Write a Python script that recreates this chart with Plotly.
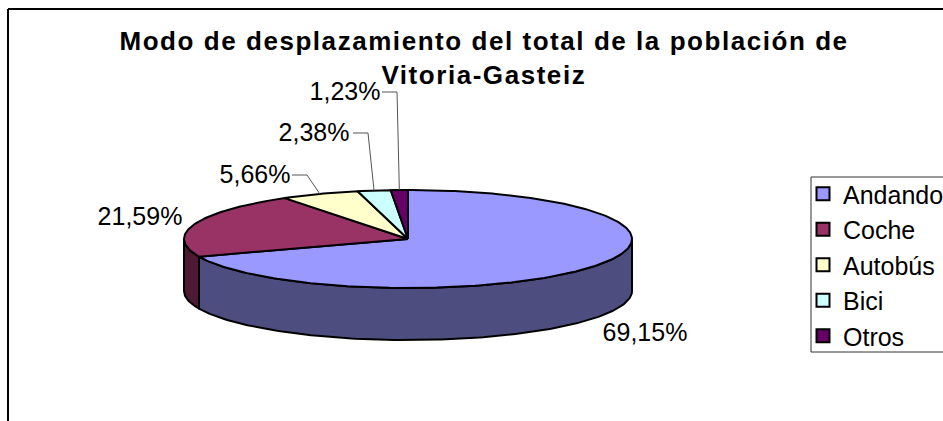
import math
import plotly.graph_objects as go

# --- data ---
categories = ["Andando", "Coche", "Autobús", "Bici", "Otros"]
values = [69.15, 21.59, 5.66, 2.38, 1.23]
top_colors = ["#9999FF", "#993366", "#FFFFCC", "#CCFFFF", "#660066"]
side_colors = ["#4D4D80", "#4D1933", "#808066", "#668080", "#330033"]
title_lines = ["Modo de desplazamiento del total de la población de", "Vitoria-Gasteiz"]

# --- layout constants (pixels in a 943x421 canvas) ---
W, H = 943, 421
CX, CY, RX, RY, DEPTH = 408, 239, 224, 49, 52
FONT = "Liberation Sans, Arial, sans-serif"
LABEL_SIZE = 25
label_pos = [(645, 335), (140, 219), (255, 177), (314, 135), (345, 94)]
leader_elbow = [None, None, [(292, 175), (307, 175)], [(353, 133), (368, 133)], [(382, 92), (397, 92)]]


def pt(deg, dy=0):
    a = math.radians(deg)
    return CX + RX * math.sin(a), CY - RY * math.cos(a) + dy


def arc(a0, a1, dy=0):
    n = max(2, int(abs(a1 - a0)) + 1)
    return [pt(a0 + (a1 - a0) * i / (n - 1), dy) for i in range(n)]


total = sum(values)
angles = [0]
for v in values:
    angles.append(angles[-1] + v / total * 360)

fig = go.Figure()


def poly(points, color, width=2):
    xs, ys = zip(*points)
    fig.add_trace(go.Scatter(
        x=list(xs) + [xs[0]], y=list(ys) + [ys[0]], mode="lines", fill="toself",
        fillcolor=color, line=dict(color="black", width=width),
        showlegend=False, hoverinfo="skip"))


# outer walls (front half only)
for i, c in enumerate(side_colors):
    a0, a1 = max(angles[i], 90), min(angles[i + 1], 270)
    if a1 > a0:
        poly(arc(a0, a1) + arc(a1, a0, DEPTH), c)

# top faces
for i, c in enumerate(top_colors):
    poly([(CX, CY)] + arc(angles[i], angles[i + 1]), c)

# leader lines
for i, elbow in enumerate(leader_elbow):
    if elbow:
        end = pt((angles[i] + angles[i + 1]) / 2)
        xs, ys = zip(*(elbow + [end]))
        fig.add_trace(go.Scatter(x=xs, y=ys, mode="lines", line=dict(color="#555555", width=1),
                                 showlegend=False, hoverinfo="skip"))

# data labels
fig.add_trace(go.Scatter(
    x=[p[0] for p in label_pos], y=[p[1] for p in label_pos], mode="text",
    text=[f"{v:.2f}%".replace(".", ",") for v in values],
    textposition="middle center", textfont=dict(family=FONT, size=LABEL_SIZE, color="black"),
    showlegend=False, hoverinfo="skip"))

# legend entries
for name, c in zip(categories, top_colors):
    fig.add_trace(go.Scatter(
        x=[None], y=[None], mode="markers", name=name, legendgroup=name,
        marker=dict(symbol="square", size=13, color=c, line=dict(color="black", width=2))))

fig.update_layout(
    width=W, height=H, margin=dict(l=0, r=0, t=0, b=0, autoexpand=False),
    paper_bgcolor="white", plot_bgcolor="white",
    xaxis=dict(range=[0, W], visible=False, fixedrange=True),
    yaxis=dict(range=[H, 0], visible=False, fixedrange=True),
    legend=dict(x=803 / W, y=1 - 171 / H, xanchor="left", yanchor="top",
                font=dict(family=FONT, size=LABEL_SIZE, color="black"),
                borderwidth=0, bgcolor="rgba(0,0,0,0)",
                tracegroupgap=0, itemclick=False, itemdoubleclick=False),
    shapes=[
        dict(type="line", xref="x", yref="y", x0=8, y0=9, x1=W, y1=9, line=dict(color="black", width=2)),
        dict(type="line", xref="x", yref="y", x0=8, y0=9, x1=8, y1=H, line=dict(color="black", width=2)),
        dict(type="rect", xref="x", yref="y", x0=811, y0=177, x1=W + 20, y1=352,
             line=dict(color="#333333", width=1), fillcolor="white"),
    ],
    annotations=[
        dict(text="<b>" + title_lines[0] + "</b>", x=484, y=41, xref="x", yref="y", showarrow=False,
             font=dict(family=FONT, size=26, color="black")),
        dict(text="<b>" + title_lines[1] + "</b>", x=484, y=75, xref="x", yref="y", showarrow=False,
             font=dict(family=FONT, size=26, color="black")),
    ],
)

fig.write_html("out.html", config={"displayModeBar": False},
               post_script="document.body.style.margin='0';document.body.style.overflow='hidden';"
                           "document.querySelectorAll('.annotation-text').forEach(t=>t.style.letterSpacing='1.55px');")
